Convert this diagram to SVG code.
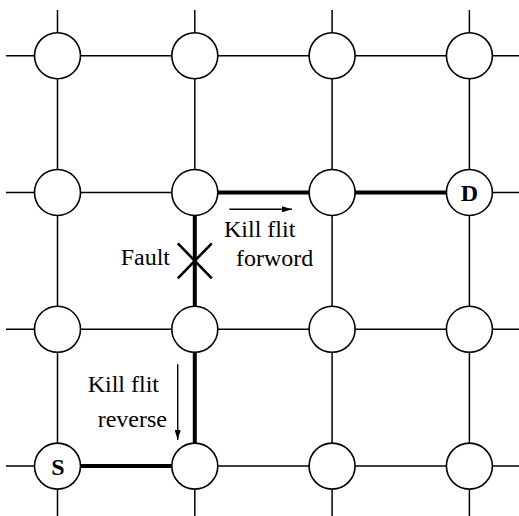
<svg xmlns="http://www.w3.org/2000/svg" width="519" height="516" viewBox="0 0 519 516">
  <style>
    .grid { stroke: #000; stroke-width: 1.5; fill: none; }
    .route { stroke: #000; stroke-width: 4; fill: none; }
    .router { fill: #fff; stroke: #000; stroke-width: 1.6; }
    .lbl { font-family: "Liberation Serif", "Times New Roman", serif; font-size: 24px; fill: #000; }
    .node-lbl { font-family: "Liberation Serif", "Times New Roman", serif; font-size: 24px; font-weight: bold; fill: #000; text-anchor: middle; }
    .arrow { stroke: #000; stroke-width: 1.4; fill: none; }
  </style>
  <defs>
    <marker id="head" viewBox="0 0 10 6" refX="10" refY="3" markerWidth="10" markerHeight="6" markerUnits="userSpaceOnUse" orient="auto">
      <path d="M0,0 L10,3 L0,6 Z" fill="#000"/>
    </marker>
  </defs>

  <rect width="519" height="516" fill="#fff"/>

  <!-- mesh links -->
  <g id="connectors">
    <g class="grid">
      <line x1="6" y1="55.7" x2="519" y2="55.7"/>
      <line x1="6" y1="192.5" x2="519" y2="192.5"/>
      <line x1="6" y1="329.3" x2="519" y2="329.3"/>
      <line x1="6" y1="466.1" x2="519" y2="466.1"/>
      <line x1="57.5" y1="10" x2="57.5" y2="516"/>
      <line x1="194.8" y1="10" x2="194.8" y2="516"/>
      <line x1="332.1" y1="10" x2="332.1" y2="516"/>
      <line x1="469.4" y1="10" x2="469.4" y2="516"/>
    </g>
    <!-- routed path S -> D -->
    <path class="route" d="M57.5,466.1 L194.8,466.1 L194.8,192.5 L469.4,192.5"/>
    <!-- kill flit directions -->
    <line class="arrow" x1="229.3" y1="209.3" x2="292" y2="209.3" marker-end="url(#head)"/>
    <line class="arrow" x1="177.7" y1="364.3" x2="177.7" y2="440" marker-end="url(#head)"/>
  </g>

  <!-- routers -->
  <g id="r00"><circle class="router" cx="57.5" cy="55.7" r="23"/></g>
  <g id="r01"><circle class="router" cx="194.8" cy="55.7" r="23"/></g>
  <g id="r02"><circle class="router" cx="332.1" cy="55.7" r="23"/></g>
  <g id="r03"><circle class="router" cx="469.4" cy="55.7" r="23"/></g>

  <g id="r10"><circle class="router" cx="57.5" cy="192.5" r="23"/></g>
  <g id="r11"><circle class="router" cx="194.8" cy="192.5" r="23"/></g>
  <g id="r12"><circle class="router" cx="332.1" cy="192.5" r="23"/></g>
  <g id="D"><circle class="router" cx="469.4" cy="192.5" r="23"/><text class="node-lbl" x="469.4" y="201">D</text></g>

  <g id="r20"><circle class="router" cx="57.5" cy="329.3" r="23"/></g>
  <g id="r21"><circle class="router" cx="194.8" cy="329.3" r="23"/></g>
  <g id="r22"><circle class="router" cx="332.1" cy="329.3" r="23"/></g>
  <g id="r23"><circle class="router" cx="469.4" cy="329.3" r="23"/></g>

  <g id="S"><circle class="router" cx="57.5" cy="466.1" r="23"/><text class="node-lbl" x="58" y="474.5">S</text></g>
  <g id="r31"><circle class="router" cx="194.8" cy="466.1" r="23"/></g>
  <g id="r32"><circle class="router" cx="332.1" cy="466.1" r="23"/></g>
  <g id="r33"><circle class="router" cx="469.4" cy="466.1" r="23"/></g>

  <!-- fault marker -->
  <g id="fault">
    <path d="M177.8,243.3 L211.8,278.3 M211.8,243.3 L177.8,278.3" stroke="#000" stroke-width="2.6" fill="none"/>
    <text class="lbl" x="170" y="265" text-anchor="end">Fault</text>
  </g>

  <!-- labels -->
  <g id="kill-forward">
    <text class="lbl" x="224" y="236.7">Kill flit</text>
    <text class="lbl" x="236" y="265.7">forword</text>
  </g>
  <g id="kill-reverse">
    <text class="lbl" x="87.7" y="391.7">Kill flit</text>
    <text class="lbl" x="97.7" y="426.7">reverse</text>
  </g>
</svg>
